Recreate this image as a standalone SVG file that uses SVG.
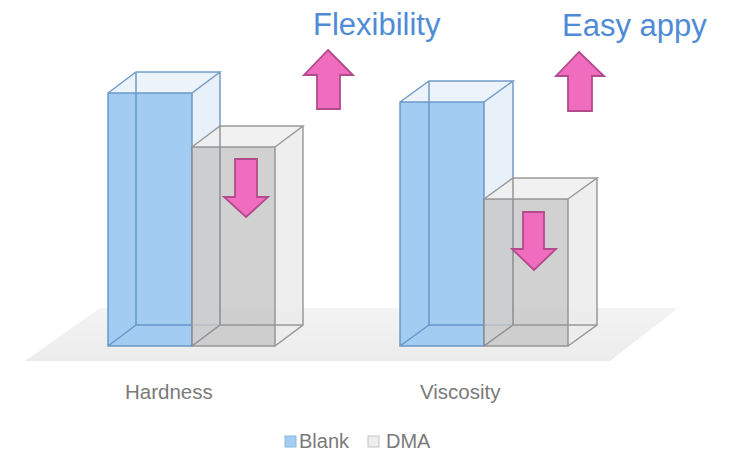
<svg xmlns="http://www.w3.org/2000/svg" width="736" height="454" viewBox="0 0 736 454">
<defs>
<style>
.lbl{font-family:"Liberation Sans",Arial,sans-serif;font-size:20.5px;fill:#7a7a7a}
.leg{font-family:"Liberation Sans",Arial,sans-serif;font-size:20px;fill:#7a7a7a}
.big{font-family:"Liberation Sans",Arial,sans-serif;font-size:31px;fill:#4f8bd6}
.arrow{fill:#ef6cbf;stroke:#b24a8c;stroke-width:1.8;stroke-linejoin:miter}
.bfront{fill:#9ec9f2;fill-opacity:0.95}
.bside{fill:#e2ecf7;fill-opacity:0.8}
.btop{fill:#e8f0f9;fill-opacity:0.8}
.bedge{fill:none;stroke:#5a8cc0;stroke-width:1.5;stroke-opacity:0.85}
.gfront{fill:#c6c6c6;fill-opacity:0.8}
.gside{fill:#ebebeb;fill-opacity:0.85}
.gtop{fill:#efefef;fill-opacity:0.85}
.gedge{fill:none;stroke:#8a8a8a;stroke-width:1.5;stroke-opacity:0.85}
</style>
<linearGradient id="floorG" x1="0" y1="0" x2="0" y2="1">
<stop offset="0" stop-color="#f3f3f3"/>
<stop offset="1" stop-color="#ececec"/>
</linearGradient>
</defs>
<rect width="736" height="454" fill="#ffffff"/>
<polygon id="floor" points="100,308 678,308 610,361 25,361" fill="url(#floorG)"/>

<g id="hardness-blank">
<polygon class="bside" points="192,93 220,72 220,325 192,346"/>
<polygon class="btop" points="108,93 136,72 220,72 192,93"/>
<rect class="bfront" x="108" y="93" width="84" height="253"/>
<path class="bedge" d="M136,72V325H220M108,346L136,325M108,93L136,72H220L192,93M220,72V325L192,346M108,93H192V346H108Z"/>
</g>
<g id="hardness-dma">
<polygon class="gside" points="275,147 303,126 303,325 275,346"/>
<polygon class="gtop" points="192,147 220,126 303,126 275,147"/>
<rect class="gfront" x="192" y="147" width="83" height="199"/>
<path class="gedge" d="M220,126V325H303M192,346L220,325M192,147L220,126H303L275,147M303,126V325L275,346M192,147H275V346H192Z"/>
</g>

<g id="viscosity-blank">
<polygon class="bside" points="484,102 513,81 513,325 484,346"/>
<polygon class="btop" points="400,102 429,81 513,81 484,102"/>
<rect class="bfront" x="400" y="102" width="84" height="244"/>
<path class="bedge" d="M429,81V325H513M400,346L429,325M400,102L429,81H513L484,102M513,81V325L484,346M400,102H484V346H400Z"/>
</g>
<g id="viscosity-dma">
<polygon class="gside" points="568,199 597,178 597,325 568,346"/>
<polygon class="gtop" points="484,199 513,178 597,178 568,199"/>
<rect class="gfront" x="484" y="199" width="84" height="147"/>
<path class="gedge" d="M513,178V325H597M484,346L513,325M484,199L513,178H597L568,199M597,178V325L568,346M484,199H568V346H484Z"/>
</g>

<g id="arrows">
<polygon class="arrow" points="235,159 257,159 257,197 268,197 246,217 224,197 235,197"/>
<polygon class="arrow" points="523,212 544,212 544,249 556,249 534,270 512,249 523,249"/>
<polygon class="arrow" points="328,50 353,75 340,75 340,109 317,109 317,75 304,75"/>
<polygon class="arrow" points="579,52 604,76 592,76 592,111 568,111 568,76 556,76"/>
</g>

<g id="labels">
<text class="big" x="313" y="35">Flexibility</text>
<text class="big" x="562" y="36">Easy appy</text>
<text class="lbl" x="125" y="399">Hardness</text>
<text class="lbl" x="420" y="399">Viscosity</text>
</g>

<g id="legend">
<rect x="285" y="436" width="11" height="11" fill="#a4cdf2" stroke="#8ab6e0" stroke-width="1"/>
<text class="leg" x="299" y="448">Blank</text>
<rect x="368" y="436" width="11" height="11" fill="#eeeeee" stroke="#c4c4c4" stroke-width="1"/>
<text class="leg" x="386" y="448">DMA</text>
</g>
</svg>
